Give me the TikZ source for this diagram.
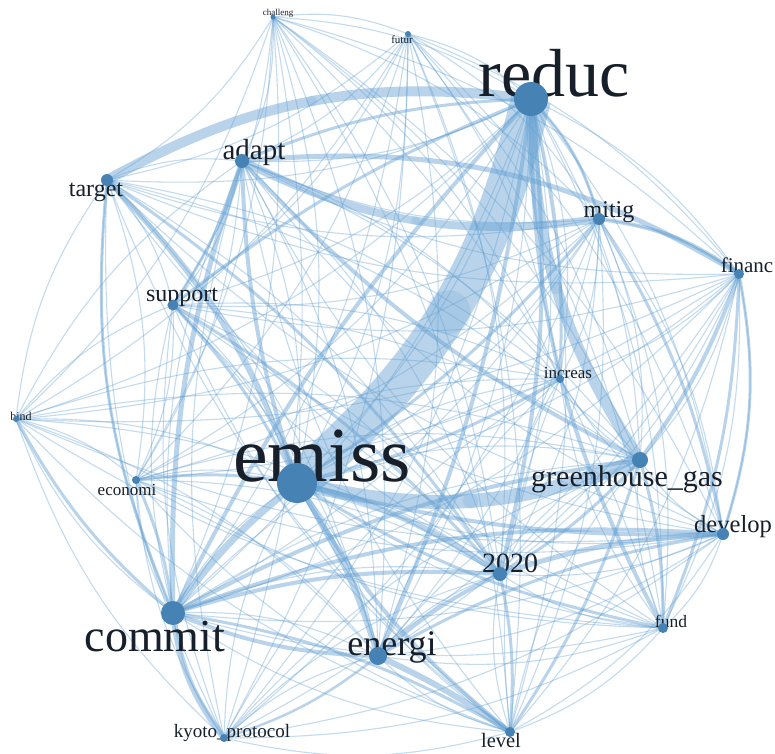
\documentclass[tikz,border=0pt]{standalone}
\usepackage{fontspec}
\setmainfont{Liberation Serif}
\definecolor{steel}{RGB}{70,130,180}
\definecolor{edgeblue}{RGB}{100,160,210}
\definecolor{ink}{RGB}{23,32,42}
\pgfdeclarelayer{back}
\pgfdeclarelayer{edges}
\pgfdeclarelayer{labels}
\pgfsetlayers{back,edges,labels,main}
\tikzset{
  vdot/.style={circle,fill=steel,draw=none,inner sep=0pt,minimum size=#1},
  lbl/.style={text=ink,inner sep=0pt,font=\fontsize{#1}{#1}\selectfont},
  thinedge/.style={draw=edgeblue,opacity=.38,line width=1.1pt},
  wedgeline/.style={draw=edgeblue,opacity=.45,line width=#1},
  mdot/.style={circle,fill=edgeblue,opacity=.2,inner sep=0pt,draw=none,minimum size=#1},
}
\begin{document}
\begin{tikzpicture}[x=1pt,y=-1pt]
\begin{pgfonlayer}{back}
\fill[white] (0,0) rectangle (775,753);
\end{pgfonlayer}
\useasboundingbox (0,0) rectangle (775,753);
% nodes
\node[vdot=5pt]  (ch)  at (273,17)  {};
\node[vdot=6pt]  (fu)  at (408,34)  {};
\node[vdot=34pt] (re)  at (531,99)  {};
\node[vdot=12pt] (mi)  at (599,219) {};
\node[vdot=10pt] (fi)  at (739,274) {};
\node[vdot=12pt] (de)  at (723,534) {};
\node[vdot=10pt] (fd)  at (663,628) {};
\node[vdot=10pt] (le)  at (510,732) {};
\node[vdot=8pt]  (ky)  at (224,738) {};
\node[vdot=24pt] (co)  at (173,613) {};
\node[vdot=6pt]  (bi)  at (16,419)  {};
\node[vdot=12pt] (ta)  at (107,180) {};
\node[vdot=14pt] (ad)  at (242,161) {};
\node[vdot=11pt] (su)  at (173,305) {};
\node[vdot=8pt]  (ec)  at (136,480) {};
\node[vdot=40pt] (em)  at (297,483) {};
\node[vdot=18pt] (en)  at (378,656) {};
\node[vdot=14pt] (tw)  at (500,574) {};
\node[vdot=16pt] (gg)  at (640,460) {};
\node[vdot=8pt]  (inc) at (560,379) {};
% labels
\begin{pgfonlayer}{labels}
\node[lbl=9]    (ch-l)  at (278,13)  {challeng};
\node[lbl=11]   (fu-l)  at (402,40)  {futur};
\node[lbl=68]   (re-l)  at (554,73)  {reduc};
\node[lbl=24]   (mi-l)  at (609,212) {mitig};
\node[lbl=21]   (fi-l)  at (747,265) {financ};
\node[lbl=24.6] (de-l)  at (733,527) {develop};
\node[lbl=17.5] (fd-l)  at (671,621) {fund};
\node[lbl=20.5] (le-l)  at (501,740) {level};
\node[lbl=19]   (ky-l)  at (232,733) {kyoto\_protocol};
\node[lbl=46]   (co-l)  at (155,636) {commit};
\node[lbl=12]   (bi-l)  at (21,416)  {bind};
\node[lbl=24]   (ta-l)  at (96,192)  {target};
\node[lbl=29]   (ad-l)  at (254,153) {adapt};
\node[lbl=24]   (su-l)  at (182,297) {support};
\node[lbl=17]   (ec-l)  at (127,490) {economi};
\node[lbl=78]   (em-l)  at (322,456) {emiss};
\node[lbl=36]   (en-l)  at (392,647) {energi};
\node[lbl=28]   (tw-l)  at (510,563) {2020};
\node[lbl=30]   (gg-l)  at (627,479) {greenhouse\_gas};
\node[lbl=17]   (inc-l) at (568,373) {increas};
\end{pgfonlayer}
% edges
\begin{pgfonlayer}{edges}
\foreach \a [count=\i] in {ch,fu,re,mi,fi,de,fd,le,ky,co,bi,ta,ad,su,ec,em,en,tw,gg,inc}{
  \foreach \b [count=\j] in {ch,fu,re,mi,fi,de,fd,le,ky,co,bi,ta,ad,su,ec,em,en,tw,gg,inc}{
    \ifnum\j>\i \draw[thinedge] (\a.center) to[bend left=14] (\b.center); \fi
  }
}
\foreach \a/\b/\w/\bd in {
  re/mi/3/14, mi/fi/4/14, fi/gg/4/8, tw/de/5/8, co/de/4/12, en/de/3/10,
  co/tw/4/10, co/en/4/-10, co/gg/4/10, em/de/4/-8, em/le/4/-10, em/fd/3/-10,
  re/tw/4/10, re/en/4/8, re/fd/4/-14, re/co/4/-8, re/ad/3/-10, re/su/3/-8,
  re/inc/3/8, ad/em/4/-8, ad/gg/4/-10, ad/su/3/8, su/em/3/8, su/tw/3/8,
  ec/em/3/8, ec/co/3/8, bi/co/3/-10, gg/tw/3/8, gg/le/3/8, gg/fd/3/8,
  inc/em/3/8, fi/de/3/14, fi/fd/3/10, en/tw/4/8, tw/le/3/8, en/ky/2.5/10,
  co/le/3/10, mi/em/3/8, mi/de/3/10, ta/co/3/-14, ta/tw/3/10,
  ad/fi/5/18, em/co/7/-8, em/en/6/8, em/tw/6/10, en/le/6/5, co/ky/6/-15,
  ad/co/5/-10, ta/em/5/12}{
  \draw[wedgeline=\w pt] (\a.center) to[bend left=\bd] (\b.center);
}
\foreach \a/\b/\w/\bd/\m in {em/re/40/-18/m1, em/gg/14/-17/m2, re/gg/11/-16/m3,
  ta/re/10/18/m4, ad/mi/8/-17/m5}{
  \draw[wedgeline=\w pt] (\a.center) to[bend left=\bd]
     node[mdot={1.1*\w pt},pos=.5] (\m) {} (\b.center);
}
\end{pgfonlayer}
\end{tikzpicture}
\end{document}
